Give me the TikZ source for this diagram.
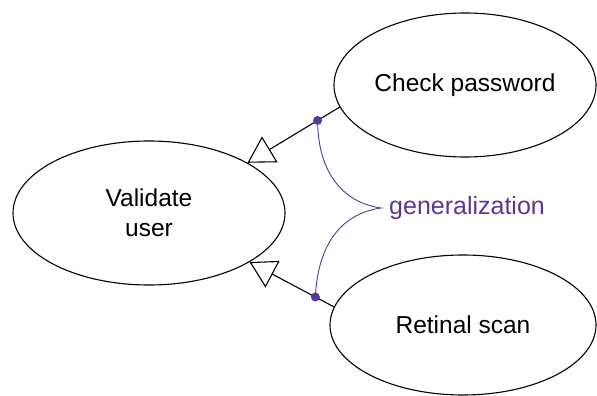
\documentclass[tikz,border=0pt]{standalone}
\usepackage{fontspec}
\setmainfont{Liberation Sans}
\usetikzlibrary{shapes.geometric,arrows.meta}
\definecolor{genpurple}{RGB}{88,56,150}
\begin{document}
\begin{tikzpicture}[x=1pt,y=-1pt,
  uc/.style={ellipse,draw,line width=1.1pt,inner sep=0pt,align=center,
             font=\fontsize{24.5}{30}\selectfont},
  genline/.style={line width=1.1pt,-{Triangle[open,length=26pt,width=30pt,fill=white]}},
  dotmark/.style={circle,fill=genpurple,inner sep=0pt,minimum size=9pt},
  note/.style={genpurple,line width=0.9pt}]
\useasboundingbox[fill=white] (0,0) rectangle (597,396);
\node[uc,minimum width=272pt,minimum height=144pt] (vu) at (149,213) {Validate\\user};
\node[uc,minimum width=262pt,minimum height=144pt] (cp) at (465,85) {Check password};
\node[uc,minimum width=266pt,minimum height=140pt] (rs) at (463,325) {Retinal scan};
\draw[genline] (cp.190) -- coordinate[pos=0.24] (d1) (vu.27.5);
\draw[genline] (rs.172.5) -- coordinate[pos=0.22] (d2) (vu.334.6);
\node[text=genpurple,anchor=west,inner sep=0pt,font=\fontsize{25}{30}\selectfont] (gen) at (389,208) {generalization};
\coordinate (cusp) at (381,208);
\draw[note] (d1) .. controls (318,175) and (345,203) .. (cusp)
                 .. controls (345,213) and (318,240) .. (d2);
\node[dotmark] (m1) at (d1) {};
\node[dotmark] (m2) at (d2) {};
\end{tikzpicture}
\end{document}
